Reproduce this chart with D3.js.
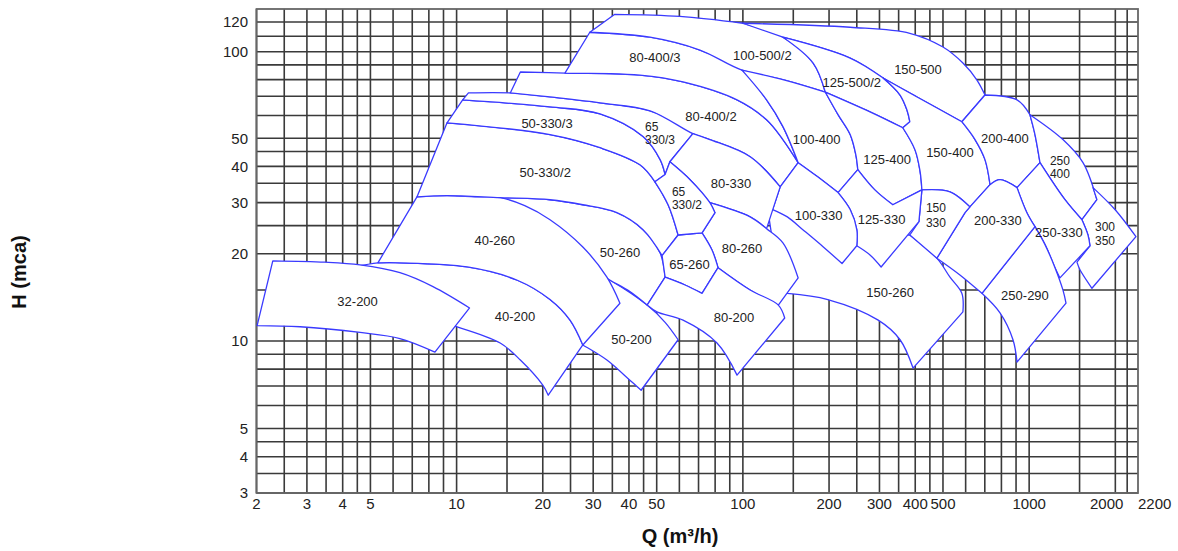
<!DOCTYPE html>
<html><head><meta charset="utf-8">
<script src="https://cdn.jsdelivr.net/npm/d3@7"></script>
<style>body{margin:0;background:#fff;} text{font-family:"Liberation Sans",Arial,sans-serif;}</style>
</head><body><svg id="c" width="1178" height="551"></svg>
<script>
// ---- axes data ----
const qGrid = [2,2.5,3,3.5,4,4.5,5,6,7,8,9,10,15,20,25,30,35,40,45,50,60,70,80,90,100,150,200,250,300,350,400,450,500,600,700,800,900,1000,1500,2000,2200];
const hGrid = [3,3.5,4,4.5,5,6,7,8,9,10,15,20,25,30,35,40,45,50,60,70,80,90,100,110,120];
const qTicks = [2,3,4,5,10,20,30,40,50,100,200,300,400,500,1000,2000,2200];
const hTicks = [3,4,5,10,20,30,40,50,100,120];
const qDomain = [2,2400];
const hDomain = [3,10,50,100,130];

// ---- pump selection tiles (Q m3/h, H mca), each tile = list of edges ----
const tileOutlines = [
 // 150-260
 [[[122,29.0],[222,23.8],[383,23.2]],[[383,23.2],[476,19.3],[529,16.6],[582,14.6],[587,12.6]],[[587,12.6],[393,8.07]],[[393,8.07],[354,10.1],[297,11.8],[198,13.9],[143,14.6]],[[143,14.6],[129,20.6],[122,29.0]]],
 // 50-200
 [[[31.7,16.9],[34.4,16.2],[46.3,13.3],[53.5,11.6],[59.4,10.1]],[[59.4,10.1],[44.1,6.77]],[[44.1,6.77],[40.3,7.33],[33.5,8.60],[27.6,9.69],[23.9,10.5]],[[23.9,10.5],[31.7,16.9]]],
 // 40-200
 [[[4.4,18.0],[5.31,18.6],[6.34,18.6],[10.9,18.0],[16.3,16.2],[21.2,13.9],[24.9,11.8],[27.6,9.69]],[[27.6,9.69],[20.9,6.51]],[[20.9,6.51],[20.0,7.05],[16.7,8.60],[14.2,9.84],[10.0,11.2],[8.75,11.6]],[[8.75,11.6],[4.4,18.0]]],
 // 50-260
 [[[14.2,31.2],[21.2,30.7],[27.6,29.5],[36.3,27.7],[44.8,24.2],[51.4,20.1],[53.5,16.6]],[[53.5,16.6],[46.3,13.3]],[[46.3,13.3],[40.3,14.8],[34.4,16.2],[27.0,18.7],[19.6,23.8]],[[19.6,23.8],[14.2,31.2]]],
 // 40-260
 [[[7.27,31.4],[9.26,31.7],[11.6,31.4],[14.2,31.2],[17.3,29.3],[21.2,26.2],[27.6,21.1],[33.5,16.6],[37.2,13.5]],[[37.2,13.5],[27.6,9.69]],[[27.6,9.69],[24.9,11.8],[21.2,13.9],[16.3,16.2],[10.9,18.0],[6.34,18.6],[5.31,18.6]],[[5.31,18.6],[7.27,31.4]]],
 // 32-200
 [[[2.28,18.9],[3.47,18.7],[4.60,18.3],[6.34,17.2],[8.27,15.4],[11.1,13.0]],[[11.1,13.0],[8.40,9.16]],[[8.40,9.16],[6.34,10.2],[4.60,10.7],[2.84,11.2],[2.01,11.3]],[[2.01,11.3],[2.28,18.9]]],
 // 50-330/2
 [[[9.26,56.6],[14.2,54.4],[21.2,51.5],[31.7,46.4],[43.7,40.5],[49.3,35.4],[54.8,29.5],[59.4,23.2]],[[59.4,23.2],[52.2,19.7]],[[52.2,19.7],[44.8,24.2],[36.3,27.7],[27.6,29.5],[21.2,30.7],[14.2,31.2],[9.26,31.7],[7.27,31.4]],[[7.27,31.4],[9.26,56.6]]],
 // 50-330/3
 [[[10.5,68.0],[21.2,64.3],[31.7,60.8],[44.8,50.7],[51.4,42.2],[53.5,37.5]],[[53.5,37.5],[49.3,35.4]],[[49.3,35.4],[43.7,40.5],[31.7,46.4],[21.2,51.5],[9.26,56.6]],[[9.26,56.6],[10.5,68.0]]],
 // 65-330/3
 [[[11.0,71.9],[15.4,71.9],[21.2,69.6],[31.7,66.4],[47.4,62.3],[57.9,57.5],[66.9,51.9]],[[66.9,51.9],[55.6,41.5]],[[55.6,41.5],[53.5,37.5]],[[53.5,37.5],[51.4,42.2],[44.8,50.7],[31.7,60.8],[21.2,64.3],[10.5,68.0]],[[10.5,68.0],[11.0,71.9]]],
 // 80-400/2
 [[[16.7,85.0],[23.9,84.3],[43.7,82.9],[61.8,78.5],[95.4,68.0],[121,58.0],[138,49.5],[156,41.2]],[[156,41.2],[135,34.0]],[[135,34.0],[106,43.2],[76.7,49.5],[66.9,51.9],[47.4,62.3],[31.7,66.4],[21.2,69.6],[15.4,71.9]],[[15.4,71.9],[16.7,85.0]]],
 // 80-400/3
 [[[29.2,112.7],[47.4,109.3],[70.8,101.0],[99.3,86.3],[121,68.0],[138,54.9],[156,41.2]],[[156,41.2],[138,49.5],[121,58.0],[95.4,68.0],[61.8,78.5],[43.7,82.9],[23.9,84.3]],[[23.9,84.3],[29.2,112.7]]],
 // 100-500/2
 [[[35.7,125.8],[60.3,124.2],[100,119.1]],[[100,119.1],[138,109.3],[176,91.3],[194,72.4]],[[194,72.4],[140,79.7],[99.3,86.3],[70.8,101.0],[47.4,109.3],[29.2,112.7]],[[29.2,112.7],[35.7,125.8]]],
 // 150-500
 [[[100,119.1],[237,116.2],[383,112.0],[500,102.9],[587,91.3],[657,79.7],[701,70.7]],[[701,70.7],[582,57.1]],[[582,57.1],[406,69.6],[309,81.0],[237,95.0],[138,109.3]],[[138,109.3],[100,119.1]]],
 // 125-500/2
 [[[138,109.3],[237,95.0],[309,81.0]],[[309,81.0],[354,70.7],[374,62.8],[383,57.1]],[[383,57.1],[362,54.4]],[[362,54.4],[278,61.8],[194,72.4]],[[194,72.4],[176,91.3],[138,109.3]]],
 // 100-400
 [[[99.3,86.3],[140,79.7],[194,72.4]],[[194,72.4],[215,60.4],[237,51.5],[248,43.9],[252,39.0]],[[252,39.0],[215,32.5]],[[215,32.5],[182,36.9],[156,41.2]],[[156,41.2],[138,54.9],[121,68.0],[99.3,86.3]]],
 // 125-400
 [[[194,72.4],[278,61.8],[362,54.4]],[[362,54.4],[399,45.7],[416,38.4],[422,33.2]],[[422,33.2],[334,29.5]],[[334,29.5],[289,33.2],[252,39.0]],[[252,39.0],[248,43.9],[237,51.5],[215,60.4],[194,72.4]]],
 // 150-400
 [[[309,81.0],[406,69.6],[582,57.1]],[[582,57.1],[647,49.5],[701,42.2],[730,34.6]],[[730,34.6],[621,29.0]],[[621,29.0],[529,32.7],[422,33.2]],[[422,33.2],[416,38.4],[399,45.7],[362,54.4]],[[362,54.4],[383,57.1]],[[383,57.1],[374,62.8],[354,70.7],[309,81.0]]],
 // 200-400
 [[[701,70.7],[907,68.0],[1006,60.4]],[[1006,60.4],[1048,51.5],[1091,41.2]],[[1091,41.2],[907,33.8]],[[907,33.8],[791,36.0],[730,34.6]],[[730,34.6],[701,42.2],[647,49.5],[582,57.1]],[[582,57.1],[701,70.7]]],
 // 250-400
 [[[1006,60.4],[1312,49.5],[1542,41.2],[1725,30.7]],[[1725,30.7],[1529,26.2]],[[1529,26.2],[1334,30.7],[1091,41.2]],[[1091,41.2],[1048,51.5],[1006,60.4]]],
 // 300-350
 [[[1671,33.8],[1994,28.4],[2361,22.9]],[[2361,22.9],[1657,15.2]],[[1657,15.2],[1505,17.6],[1469,18.7]],[[1469,18.7],[1631,21.3]],[[1631,21.3],[1605,23.2],[1529,26.2]],[[1529,26.2],[1725,30.7]],[[1725,30.7],[1671,33.8]]],
 // 250-330
 [[[907,33.8],[1091,41.2]],[[1091,41.2],[1334,30.7],[1529,26.2]],[[1529,26.2],[1605,23.2],[1631,21.3]],[[1631,21.3],[1281,16.5]],[[1281,16.5],[1231,17.9],[1136,21.5],[1048,24.8]],[[1048,24.8],[982,27.7],[907,33.8]]],
 // 250-290
 [[[684,14.6],[1048,24.8]],[[1048,24.8],[1136,21.5],[1231,17.9],[1312,15.0],[1345,13.5]],[[1345,13.5],[907,8.46]],[[907,8.46],[878,10.1],[791,12.5],[684,14.6]]],
 // 200-330
 [[[621,29.0],[730,34.6]],[[730,34.6],[791,36.0],[907,33.8]],[[907,33.8],[982,27.7],[1048,24.8]],[[1048,24.8],[684,14.6]],[[684,14.6],[573,16.9],[476,19.3]],[[476,19.3],[597,27.7]],[[597,27.7],[621,29.0]]],
 // 150-330
 [[[422,33.2],[529,32.7],[621,29.0]],[[621,29.0],[597,27.7]],[[597,27.7],[476,19.3]],[[476,19.3],[383,23.2]],[[383,23.2],[412,25.8]],[[412,25.8],[422,33.2]]],
 // 125-330
 [[[252,39.0],[289,33.2],[334,29.5]],[[334,29.5],[422,33.2]],[[422,33.2],[412,25.8]],[[412,25.8],[304,18.0]],[[304,18.0],[278,19.8],[250,21.3]],[[250,21.3],[250,24.2],[237,28.4],[215,32.5]],[[215,32.5],[252,39.0]]],
 // 100-330
 [[[135,34.0],[156,41.2]],[[156,41.2],[182,36.9],[215,32.5]],[[215,32.5],[237,28.4],[250,24.2],[250,21.3]],[[250,21.3],[222,18.5]],[[222,18.5],[191,21.1],[162,24.2],[143,26.8],[127,28.4]],[[127,28.4],[135,34.0]]],
 // 80-330
 [[[66.9,51.9],[76.7,49.5],[106,43.2],[135,34.0]],[[135,34.0],[121,24.4]],[[121,24.4],[106,26.8],[76.7,30.0]],[[76.7,30.0],[65.4,36.0],[55.6,41.5]],[[55.6,41.5],[66.9,51.9]]],
 // 80-260
 [[[76.7,30.0],[106,26.8],[121,24.4],[138,21.8],[156,16.5]],[[156,16.5],[133,13.3]],[[133,13.3],[106,15.0],[81.9,17.9]],[[81.9,17.9],[78.0,20.6],[72.0,23.6]],[[72.0,23.6],[79.9,27.7]],[[79.9,27.7],[76.7,30.0]]],
 // 65-260
 [[[59.4,23.2],[72.0,23.6]],[[72.0,23.6],[78.0,20.6],[81.9,17.9]],[[81.9,17.9],[72.0,14.6]],[[72.0,14.6],[62.8,15.6],[53.5,16.6]],[[53.5,16.6],[52.2,19.7]],[[52.2,19.7],[59.4,23.2]]],
 // 65-330/2
 [[[49.3,35.4],[53.5,37.5]],[[53.5,37.5],[55.6,41.5]],[[55.6,41.5],[65.4,36.0],[76.7,30.0],[79.9,27.7]],[[79.9,27.7],[72.0,23.6]],[[72.0,23.6],[59.4,23.2]],[[59.4,23.2],[54.8,29.5],[49.3,35.4]]],
 // 80-200
 [[[46.3,13.3],[53.5,16.6]],[[53.5,16.6],[62.8,15.6],[72.0,14.6]],[[72.0,14.6],[81.9,17.9]],[[81.9,17.9],[106,15.0],[133,13.3],[140,12.0]],[[140,12.0],[95.4,7.63]],[[95.4,7.63],[81.2,9.84],[61.8,11.8],[50.1,12.6],[46.3,13.3]]]
];

// ---- tile labels ----
const labelText = ["32-200","40-200","40-260","50-330/3","50-330/2","80-400/3","100-500/2","80-400/2","100-400","125-500/2","125-400","150-500","150-400","200-400","80-330","100-330","125-330","200-330","250-330","250-290","150-260","50-260","80-260","65-260","80-200","50-200","65","330/3","65","330/2","250","400","150","330","300","350"];
const labelQ = [4.51,16.0,13.6,20.7,20.4,49.3,117,77.4,181,240,319,409,529,823,90.9,184,305,778,1271,967,327,37.2,99.3,65.1,93.1,40.8,45.5,45.5,56.5,56.5,1182,1182,436,436,1698,1698];
const labelH = [13.7,12.2,22.2,56.5,38.1,95.5,97.3,59.5,49.7,78.0,42.4,87.0,44.7,50.1,35.0,27.1,26.3,26.0,23.6,14.4,14.7,20.2,20.9,18.4,12.1,10.1,54.8,49.6,32.6,29.4,41.8,37.6,28.8,25.6,24.7,22.2];
const labelLeft = [0,0,0,0,0,0,0,0,0,0,0,0,0,0,0,0,0,0,0,0,0,0,0,0,0,0,1,1,1,1,1,1,1,1,1,1];

const svg = d3.select("#c");
const x = d3.scaleLog().domain(qDomain).range([256.5,1138]);
const y = d3.scaleLog().domain(hDomain).range([493,341,138.3,51.7,9]);

// grid
const g = svg.append("g");
g.selectAll("line.v").data(qGrid).join("line")
 .attr("x1",d=>x(d)).attr("x2",d=>x(d)).attr("y1",y(130)).attr("y2",y(3))
 .attr("stroke","#3a3a3a").attr("stroke-width",1.6);
g.selectAll("line.h").data(hGrid).join("line")
 .attr("y1",d=>y(d)).attr("y2",d=>y(d)).attr("x1",x(2)).attr("x2",x(2400))
 .attr("stroke","#3a3a3a").attr("stroke-width",1.6);
g.append("rect").attr("x",x(2)).attr("y",y(130)).attr("width",x(2400)-x(2)).attr("height",y(3)-y(130))
 .attr("fill","none").attr("stroke","#666").attr("stroke-width",1.8);

// tiles
const lineGen = d3.line().x(d=>x(d[0])).y(d=>y(d[1])).curve(d3.curveCatmullRom.alpha(0.5));
const tileG = svg.append("g");
tileOutlines.forEach(edges=>{
  const p = edges.map((e,i)=>{const s=lineGen(e); return i===0?s:s.replace(/^M/,"L");}).join("")+"Z";
  tileG.append("path").attr("d",p).attr("fill","#fff").attr("stroke","#3a3aff").attr("stroke-width",1.3).attr("stroke-linejoin","round");
});

// tile labels
svg.append("g").selectAll("text").data(labelText).join("text")
 .attr("x",(d,i)=>x(labelQ[i])).attr("y",(d,i)=>y(labelH[i])).attr("dy","0.35em")
 .attr("text-anchor",(d,i)=>labelLeft[i]?"start":"middle")
 .attr("font-size",(d,i)=>labelLeft[i]?12:13).attr("fill","#222").text(d=>d);

// axis tick labels
svg.append("g").selectAll("text").data(qTicks).join("text")
 .attr("x",d=> d===2200 ? x(qDomain[1]) : (d===2000 ? x(d)+8 : x(d)))
 .attr("y",509)
 .attr("text-anchor",d=> d===2200 ? "start" : (d===2000 ? "end":"middle"))
 .attr("font-size",15).attr("fill","#222").text(d=>d);
svg.append("g").selectAll("text").data(hTicks).join("text")
 .attr("x",248).attr("y",d=>y(d)).attr("dy","0.35em").attr("text-anchor","end")
 .attr("font-size",15).attr("fill","#222").text(d=>d);

// axis titles
svg.append("text").attr("x",680).attr("y",543).attr("text-anchor","middle")
 .attr("font-family","'Open Sans',sans-serif").attr("font-weight","bold").attr("font-size",20).attr("fill","#111").text("Q (m³/h)");
svg.append("text").attr("transform","translate(26,272) rotate(-90)").attr("text-anchor","middle")
 .attr("font-family","'Open Sans',sans-serif").attr("font-weight","bold").attr("font-size",20).attr("fill","#111").text("H (mca)");
</script></body></html>
